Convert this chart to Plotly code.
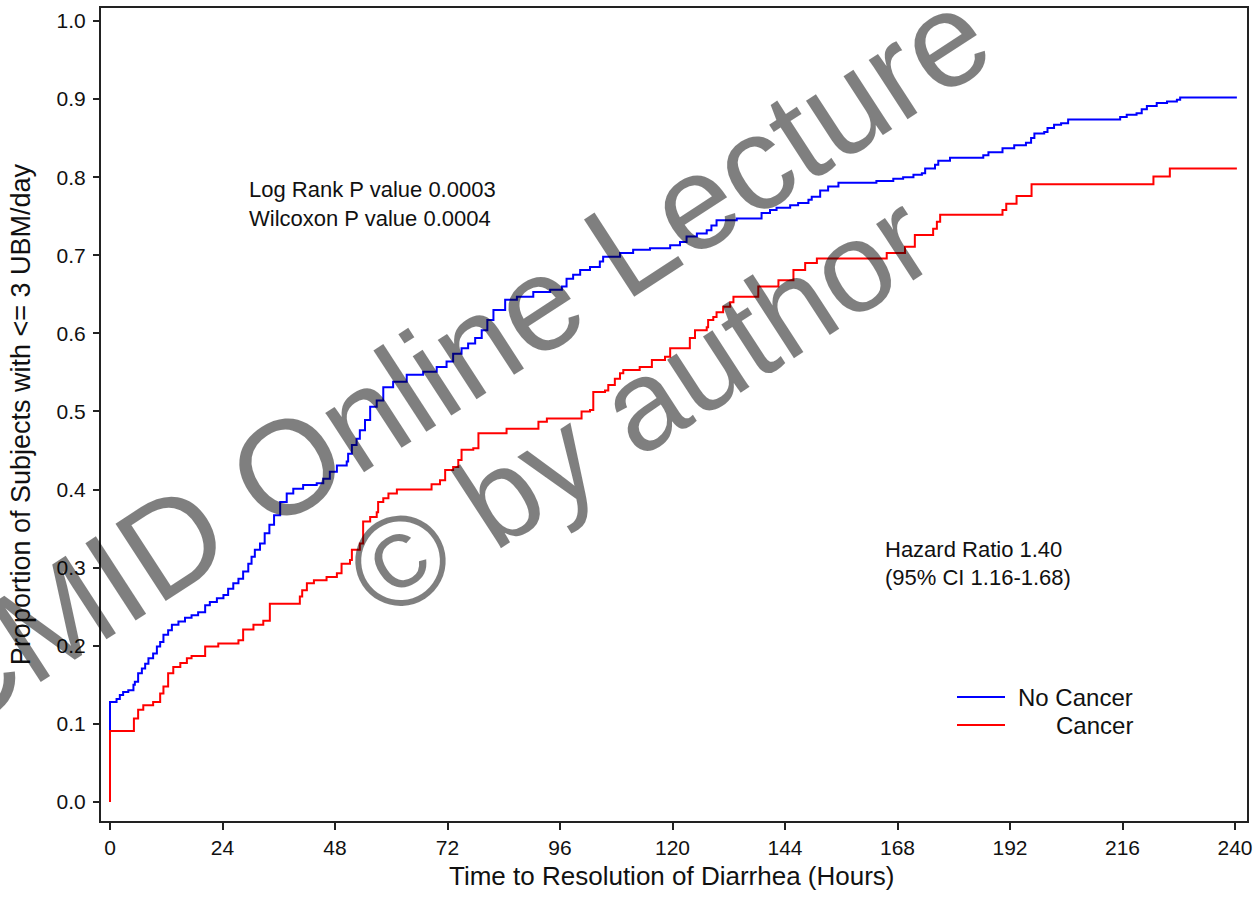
import plotly.graph_objects as go

# ---- data ----
no_cancer_t = [0, 0, 1.4, 2.1, 2.8, 3.9, 5.0, 5.3, 6.0, 6.8, 7.5, 8.2, 9.2, 10.0, 10.7, 11.4, 12.4, 13.2,
               14.6, 16.0, 17.4, 18.8, 20.3, 21.3, 22.8, 24.2, 25.2, 26.3, 27.4, 28.4, 29.5, 30.2, 30.9,
               32.0, 33.0, 34.0, 35.0, 36.3, 37.7, 39.1, 41.2, 44.1, 45.5, 46.9, 48.4, 50.5, 50.8, 51.6,
               52.6, 53.3, 54.4, 55.5, 56.9, 58.3, 60.4, 63.3, 66.8, 69.7, 71.8, 73.2, 75.0, 76.4, 77.9,
               79.3, 80.5, 81.8, 84.3, 86.8, 90.3, 93.9, 96.4, 97.4, 98.8, 100.3, 102.4, 104.5, 105.2,
               108.8, 111.6, 115.2, 119.5, 121.6, 123.0, 125.2, 127.3, 128.3, 129.4, 133.7, 139.0, 140.8,
               142.2, 145.1, 146.8, 149.0, 149.7, 151.5, 153.2, 155.4, 163.5, 167.1, 169.2, 171.4, 173.2,
               173.9, 176.0, 176.7, 179.2, 186.3, 187.4, 190.4, 192.9, 195.4, 196.5, 197.2, 199.3, 200.0,
               201.4, 202.9, 204.4, 215.5, 216.9, 219.0, 220.1, 221.2, 223.3, 225.5, 227.6, 228.3, 240.4]
no_cancer_p = [0.0, 0.128, 0.132, 0.137, 0.141, 0.143, 0.150, 0.154, 0.165, 0.171, 0.177, 0.184, 0.190,
               0.199, 0.205, 0.214, 0.220, 0.227, 0.231, 0.236, 0.239, 0.243, 0.252, 0.256, 0.261, 0.265,
               0.273, 0.280, 0.286, 0.295, 0.305, 0.314, 0.323, 0.331, 0.344, 0.355, 0.367, 0.384, 0.395,
               0.401, 0.406, 0.408, 0.414, 0.423, 0.431, 0.436, 0.446, 0.457, 0.465, 0.476, 0.489, 0.506,
               0.514, 0.531, 0.538, 0.547, 0.551, 0.557, 0.564, 0.574, 0.581, 0.587, 0.594, 0.604, 0.617,
               0.630, 0.643, 0.647, 0.653, 0.656, 0.660, 0.670, 0.675, 0.681, 0.685, 0.692, 0.698, 0.703,
               0.707, 0.709, 0.713, 0.717, 0.724, 0.728, 0.732, 0.738, 0.745, 0.747, 0.754, 0.758, 0.761,
               0.764, 0.767, 0.771, 0.775, 0.783, 0.788, 0.793, 0.795, 0.798, 0.800, 0.803, 0.805, 0.811,
               0.816, 0.821, 0.825, 0.828, 0.832, 0.837, 0.841, 0.844, 0.850, 0.856, 0.858, 0.863, 0.867,
               0.869, 0.874, 0.877, 0.880, 0.882, 0.887, 0.891, 0.895, 0.897, 0.899, 0.902, 0.902]

cancer_t = [0, 0, 5.1, 6.0, 7.1, 9.2, 10.7, 11.4, 12.4, 13.5, 15.0, 16.4, 17.4, 20.3, 23.1, 27.4, 28.4,
            30.6, 32.7, 34.1, 40.5, 41.0, 42.0, 43.5, 46.2, 48.4, 49.4, 51.2, 51.6, 53.3, 54.0, 55.5,
            56.9, 57.2, 58.3, 59.4, 61.2, 68.6, 70.4, 71.5, 73.2, 74.3, 75.0, 77.5, 78.6, 84.6, 91.4,
            93.2, 100.6, 102.4, 103.1, 105.6, 106.3, 107.7, 108.8, 109.5, 113.0, 115.6, 118.4, 119.5,
            123.7, 124.8, 127.3, 127.6, 128.7, 129.4, 130.8, 132.3, 133.0, 138.3, 142.6, 145.8, 148.3,
            150.8, 165.7, 169.6, 171.7, 175.6, 176.4, 177.1, 190.4, 191.2, 193.4, 196.6, 222.6, 226.1,
            240.4]
cancer_p = [0.0, 0.091, 0.107, 0.118, 0.124, 0.128, 0.139, 0.148, 0.165, 0.173, 0.178, 0.184, 0.187,
            0.199, 0.203, 0.207, 0.221, 0.227, 0.232, 0.254, 0.263, 0.271, 0.280, 0.284, 0.288, 0.293,
            0.305, 0.310, 0.323, 0.331, 0.359, 0.365, 0.371, 0.384, 0.389, 0.395, 0.400, 0.407, 0.412,
            0.425, 0.429, 0.438, 0.451, 0.453, 0.472, 0.478, 0.487, 0.491, 0.500, 0.502, 0.525, 0.527,
            0.534, 0.542, 0.549, 0.553, 0.557, 0.566, 0.570, 0.581, 0.594, 0.604, 0.608, 0.617, 0.621,
            0.627, 0.634, 0.640, 0.647, 0.660, 0.668, 0.681, 0.690, 0.696, 0.703, 0.711, 0.726, 0.734,
            0.743, 0.752, 0.758, 0.766, 0.776, 0.791, 0.801, 0.811, 0.811]

series_names = ["No Cancer", "Cancer"]
series_colors = ["#0000FF", "#FF0000"]
x_ticks = [0, 24, 48, 72, 96, 120, 144, 168, 192, 216, 240]
y_ticks = [0.0, 0.1, 0.2, 0.3, 0.4, 0.5, 0.6, 0.7, 0.8, 0.9, 1.0]
x_title = "Time to Resolution of Diarrhea (Hours)"
y_title = "Proportion of Subjects with <= 3 UBM/day"

# ---- layout geometry ----
W, H = 1259, 917
L, R, T, B = 101, 1247, 8, 821
FONT = "Liberation Sans, Arial, sans-serif"
TXT = "#111111"

def px(x):
    return (x - L) / (R - L)

def py(y):
    return (B - y) / (B - T)

fig = go.Figure()
for t, p, name, col in [(no_cancer_t, no_cancer_p, series_names[0], series_colors[0]),
                        (cancer_t, cancer_p, series_names[1], series_colors[1])]:
    fig.add_trace(go.Scatter(x=t, y=p, mode="lines", name=name,
                             line=dict(color=col, width=2, shape="hv"), showlegend=False))

def note(x, y, text, size, xanchor="left", **kw):
    return dict(x=px(x), y=py(y), xref="paper", yref="paper", text=text, xanchor=xanchor,
                yanchor="middle", showarrow=False, font=dict(size=size, color=kw.pop("color", TXT),
                                                              family=FONT), **kw)

annotations = [
    note(247, 190, "Log Rank P value 0.0003", 22),
    note(247, 218, "Wilcoxon P value 0.0004", 22),
    note(883, 549, "Hazard Ratio 1.40", 22),
    note(883, 577, "(95% CI 1.16-1.68)", 22),
    note(1135, 697, series_names[0], 24, xanchor="right"),
    note(1135, 725, series_names[1], 24, xanchor="right"),
    note(672, 876, x_title, 26, xanchor="center"),
    # watermark
    note(449, 361, "CMID Online Lecture", 134, xanchor="center", textangle=-33, color="rgba(0,0,0,0.5)"),
    note(639, 405, "© by author", 128, xanchor="center", textangle=-33, color="rgba(0,0,0,0.5)"),
]

shapes = [
    dict(type="line", xref="paper", yref="paper", x0=px(957), x1=px(1005), y0=py(697), y1=py(697),
         line=dict(color=series_colors[0], width=2)),
    dict(type="line", xref="paper", yref="paper", x0=px(957), x1=px(1005), y0=py(725), y1=py(725),
         line=dict(color=series_colors[1], width=2)),
]

fig.update_layout(
    width=W, height=H,
    margin=dict(l=L, r=W - R, t=T, b=H - B, pad=0, autoexpand=False),
    paper_bgcolor="white", plot_bgcolor="white",
    font=dict(family=FONT, color=TXT),
    annotations=annotations, shapes=shapes,
    showlegend=False,
)
fig.update_xaxes(
    range=[-1.92, 242.56], tickvals=x_ticks, ticktext=[str(v) for v in x_ticks],
    showgrid=False, zeroline=False, showline=True, linecolor="#222222", linewidth=2, mirror=True,
    ticks="outside", ticklen=7, tickwidth=1.5, tickcolor="#222222",
    tickfont=dict(size=21, family=FONT, color=TXT),
)
fig.update_yaxes(
    range=[-0.0243, 1.0166], tickvals=y_ticks, ticktext=[f"{v:.1f}" for v in y_ticks],
    showgrid=False, zeroline=False, showline=True, linecolor="#222222", linewidth=2, mirror=True,
    ticks="outside", ticklen=6, tickwidth=1.5, tickcolor="#222222", ticklabelstandoff=3,
    tickfont=dict(size=21, family=FONT, color=TXT),
    title=dict(text=y_title, font=dict(size=27, family=FONT, color=TXT), standoff=18),
)

fig.write_html("out.html", config={"displayModeBar": False},
               post_script="document.body.style.margin='0px';")
